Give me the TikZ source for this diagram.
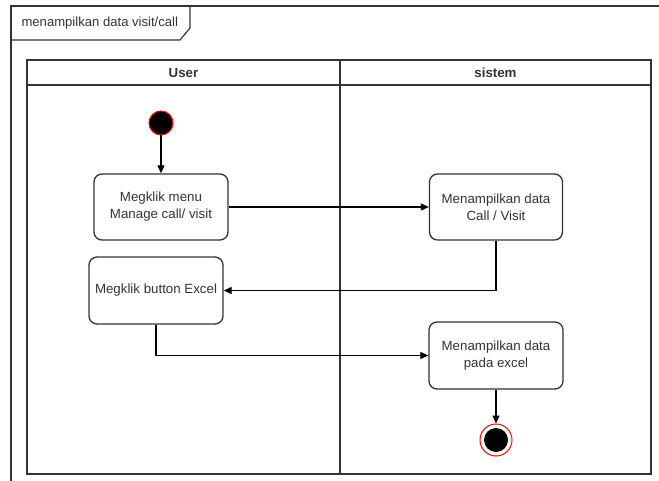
\documentclass[tikz,border=0pt]{standalone}
\usepackage{fontspec}
\setmainfont{Liberation Sans}
\usetikzlibrary{arrows.meta}
\definecolor{ln}{HTML}{333333}
\definecolor{txt}{HTML}{333333}
\tikzset{
  act/.style={draw=ln, line width=1.3pt, rounded corners=8pt, fill=white, align=center,
    text=txt, font=\fontsize{13.3}{17}\selectfont, inner sep=0pt},
  flow/.style={draw=black, line width=1.1pt, -{Triangle[length=8pt,width=7pt]}},
  lane/.style={draw=ln, line width=1.3pt},
  hdr/.style={font=\bfseries\fontsize{13.3}{16}\selectfont, text=txt},
}
\begin{document}
\begin{tikzpicture}[x=1pt,y=-1pt]
\useasboundingbox (0,0) rectangle (659,481);
% outer frame
\draw[ln, line width=1.2pt] (11,481) -- (11,6) -- (659,6);
\draw[ln, line width=1.2pt] (11,40) -- (180,40) -- (190,28) -- (190,6);
\node[anchor=west, text=txt, font=\fontsize{13.1}{16}\selectfont] (title) at (18,23) {menampilkan data visit/call};
% swimlanes
\draw[lane] (27,60) rectangle (651,474);
\draw[lane] (27,85) -- (651,85);
\draw[lane] (340,60) -- (340,474);
\node[hdr] (user) at (183.5,72.5) {User};
\node[hdr] (sis) at (495.5,72.5) {sistem};
% nodes
\node[circle, fill=black, draw=red, line width=1pt, minimum size=24pt, inner sep=0pt] (start) at (161,123) {};
\node[act, minimum width=134pt, minimum height=66pt] (b1) at (161,207) {Megklik menu\\Manage call/ visit};
\node[act, minimum width=134pt, minimum height=67pt] (b2) at (156,290.5) {Megklik button Excel};
\node[act, minimum width=133pt, minimum height=66pt] (b3) at (496,207) {Menampilkan data\\Call / Visit};
\node[act, minimum width=134pt, minimum height=67pt] (b4) at (496,355.5) {Menampilkan data\\pada excel};
\node[circle, fill=white, draw=red, line width=1pt, minimum size=32pt, inner sep=0pt] (end) at (496,440) {};
\node[circle, fill=black, minimum size=24pt, inner sep=0pt] (endin) at (496,440) {};
% connectors
\draw[flow] (start) -- (b1);
\draw[flow] (b1) -- (b3);
\draw[flow] (b3.south) |- (b2.east);
\draw[flow] (b2.south) |- (b4.west);
\draw[flow] (b4) -- (end);
\end{tikzpicture}
\end{document}
